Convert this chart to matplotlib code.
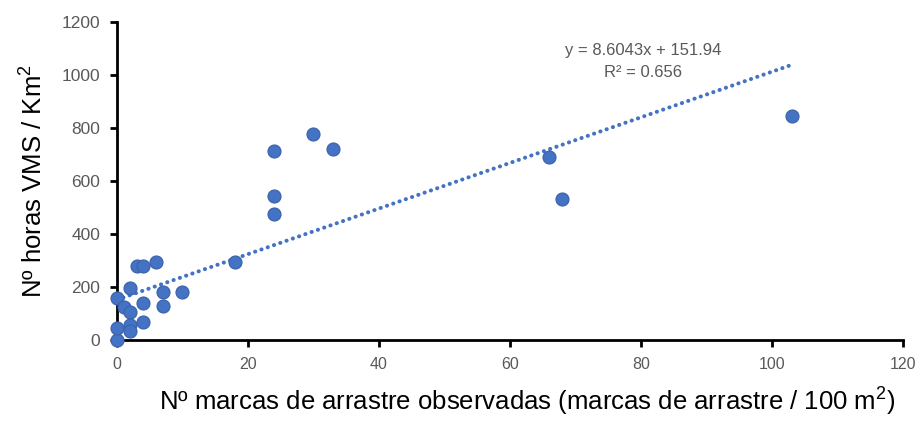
import matplotlib.pyplot as plt
import numpy as np

plt.rcParams['font.family'] = ['Liberation Sans', 'DejaVu Sans']
plt.rcParams['mathtext.default'] = 'regular'

# marcas de arrastre / 100 m2 vs horas VMS / Km2
marcas = [0, 0, 0, 1, 2, 2, 2, 2, 3, 4, 4, 4, 6, 7, 7, 10, 18,
          24, 24, 24, 30, 33, 66, 68, 103]
horas = [0, 45, 157, 125, 105, 195, 55, 35, 280, 280, 140, 68, 295, 180, 130, 180, 295,
         712, 542, 475, 778, 720, 690, 532, 845]

slope = 8.6043
intercept = 151.94
r2 = 0.656

blue = '#4472C4'
grey = '#595959'

fig = plt.figure(figsize=(9.17, 4.21), dpi=100)
ax = fig.add_axes([0.1276, 0.1924, 0.857, 0.7553])

xt = np.array([0, max(marcas)])
ax.plot(xt, slope * xt + intercept, color=blue, lw=2.9,
        linestyle=(0, (0.05, 1.6)), dash_capstyle='round', zorder=2)
ax.scatter(marcas, horas, s=88, color=blue, edgecolor='#3a62a8', linewidth=0.8,
           zorder=3, clip_on=False)

ax.set_xlim(0, 120)
ax.set_ylim(0, 1200)
ax.set_xticks(range(0, 121, 20))
ax.set_yticks(range(0, 1201, 200))

for s in ['top', 'right']:
    ax.spines[s].set_visible(False)
for s in ['left', 'bottom']:
    ax.spines[s].set_linewidth(2)
ax.tick_params(width=2, length=5, labelcolor=grey, pad=7)
ax.tick_params(axis='y', labelsize=12.5)
ax.tick_params(axis='x', labelsize=11.5)

ax.set_xlabel('Nº marcas de arrastre observadas (marcas de arrastre / 100 m$^{2}$)',
              fontsize=18.5)
ax.xaxis.set_label_coords(0.522, -0.145)
ax.set_ylabel('Nº horas VMS / Km$^{2}$', fontsize=18.5, labelpad=10)

ax.text(80.3, 1094, 'y = %.4fx + %.2f' % (slope, intercept), ha='center', va='center',
        fontsize=12, color=grey)
ax.text(80.3, 1011, 'R² = %.3f' % r2, ha='center', va='center',
        fontsize=12, color=grey)

fig.savefig('out.png', dpi=100)
